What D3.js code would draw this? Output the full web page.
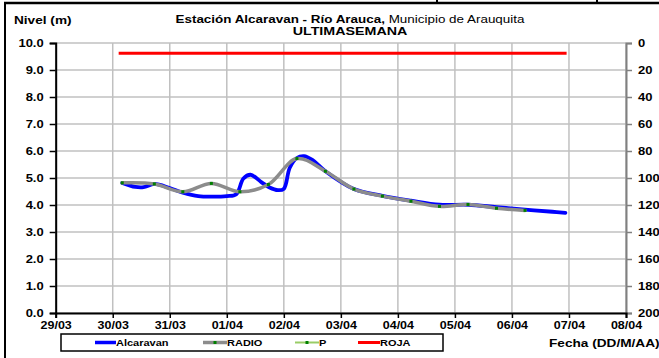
<!DOCTYPE html>
<html><head><meta charset="utf-8">
<script src="https://cdn.jsdelivr.net/npm/d3@7"></script>
<style>
html,body{margin:0;padding:0;background:#fff;}
svg{display:block;font-family:"Liberation Sans",Arial,sans-serif;}
</style></head>
<body><svg id="chart" width="659" height="358"></svg>
<script>
// ---------------- data ----------------
const YEAR = 2012;
const xTickLabels = ["29/03","30/03","31/03","01/04","02/04","03/04","04/04","05/04","06/04","07/04","08/04"];
const yLeftTicks = [0,1,2,3,4,5,6,7,8,9,10];
const yRightTicks = [0,20,40,60,80,100,120,140,160,180,200];

const alcaravanFecha = ["30/03 04:00","30/03 09:30","30/03 13:00","30/03 17:30","31/03 00:00","31/03 05:30","31/03 12:00","31/03 18:00","01/04 00:00","01/04 04:00","01/04 07:00","01/04 10:00","01/04 14:30","01/04 18:00","01/04 21:30","02/04 00:00","02/04 02:30","02/04 05:30","02/04 08:30","02/04 12:00","02/04 17:30","03/04 05:30","03/04 17:30","04/04 05:30","04/04 17:30","05/04 05:30","05/04 17:30","06/04 05:30","06/04 17:00","06/04 22:30"];
const alcaravanNivel = [4.82,4.67,4.66,4.78,4.63,4.46,4.33,4.31,4.33,4.40,4.98,5.12,4.85,4.65,4.55,4.60,5.38,5.74,5.81,5.67,5.25,4.59,4.34,4.16,4.01,4.01,3.92,3.83,3.75,3.71];

const radioFecha = ["30/03 04:00","30/03 17:30","31/03 05:30","31/03 17:30","01/04 05:30","01/04 17:30","02/04 05:30","02/04 17:30","03/04 05:30","03/04 17:30","04/04 05:30","04/04 17:30","05/04 05:30","05/04 17:30","06/04 05:30"];
const radioNivel = [4.82,4.78,4.49,4.80,4.49,4.76,5.72,5.25,4.59,4.33,4.14,3.95,4.02,3.88,3.80];

const pFecha = ["30/03 04:00","30/03 17:30","31/03 05:30","31/03 17:30","01/04 05:30","01/04 17:30","02/04 05:30","02/04 17:30","03/04 05:30","03/04 17:30","04/04 05:30","04/04 17:30","05/04 05:30","05/04 17:30","06/04 05:30"];
const pNivel = [4.82,4.78,4.49,4.80,4.49,4.76,5.72,5.25,4.59,4.33,4.14,3.95,4.02,3.88,3.80];

const rojaFecha = ["30/03 02:30","06/04 23:00"];
const rojaNivel = [9.62,9.62];

const legendNames = ["Alcaravan","RADIO","P","ROJA"];

// ---------------- helpers ----------------
function parseF(s){
  const [dm, hm] = s.split(" ");
  const [d,m] = dm.split("/").map(Number);
  const [h,mi] = (hm||"00:00").split(":").map(Number);
  return new Date(YEAR, m-1, d, h, mi);
}
const zip = (f,v) => f.map((s,i)=>({t:parseF(s), v:v[i]}));
// stretch text horizontally around its anchor x
function stretch(sel, sx){
  sel.each(function(){
    const el = d3.select(this);
    const ax = +(el.attr("x")||0);
    el.attr("transform", `translate(${ax*(1-sx)},0) scale(${sx},1)`);
  });
}

const svg = d3.select("#chart");
const L = 55.7, R = 626, T = 43, B = 313;
const x = d3.scaleTime().domain([parseF(xTickLabels[0]), parseF(xTickLabels[xTickLabels.length-1])]).range([L,R]);
const y = d3.scaleLinear().domain([0,10]).range([B,T]);
const y2 = d3.scaleLinear().domain([0,200]).range([T,B]);

// outer frame
svg.append("line").attr("x1",5).attr("x2",5).attr("y1",3).attr("y2",358).attr("stroke","#000").attr("stroke-width",2);
svg.append("line").attr("x1",4).attr("x2",659).attr("y1",3).attr("y2",3).attr("stroke","#000").attr("stroke-width",2.5);
[437,597].forEach(px=>svg.append("line").attr("x1",px).attr("x2",px).attr("y1",0).attr("y2",3).attr("stroke","#000").attr("stroke-width",2));

// grid
const g = svg.append("g");
g.selectAll(".hg").data(yLeftTicks).join("line")
  .attr("x1",L).attr("x2",R).attr("y1",d=>y(d)).attr("y2",d=>y(d))
  .attr("stroke","#c0c0c0").attr("stroke-width",1.5);
g.selectAll(".vg").data(xTickLabels).join("line")
  .attr("x1",d=>x(parseF(d))).attr("x2",d=>x(parseF(d))).attr("y1",T).attr("y2",B)
  .attr("stroke","#c0c0c0").attr("stroke-width",1.5);

// axes
const fontTick = "bold 10px 'Liberation Sans', Arial, sans-serif";
const TS = 1.3;
const axL = d3.axisLeft(y).tickValues(yLeftTicks).tickFormat(d3.format(".1f")).tickSize(6).tickPadding(6);
const gL = svg.append("g").attr("transform",`translate(${L},0)`).call(axL);
gL.select(".domain").attr("stroke","#000").attr("stroke-width",2);
gL.selectAll(".tick line").attr("stroke","#000").attr("stroke-width",1.5);
gL.selectAll("text").style("font",fontTick).attr("fill","#000").call(stretch,TS);

const axR = d3.axisRight(y2).tickValues(yRightTicks).tickSize(6).tickPadding(6);
const gR = svg.append("g").attr("transform",`translate(${R},0)`).call(axR);
gR.select(".domain").attr("stroke","#808080").attr("stroke-width",2);
gR.selectAll(".tick line").attr("stroke","#808080").attr("stroke-width",1.5);
gR.selectAll("text").style("font",fontTick).attr("fill","#000").call(stretch,TS);

const axB = d3.axisBottom(x).tickValues(xTickLabels.map(parseF)).tickFormat((d,i)=>xTickLabels[i]).tickSize(5).tickPadding(4);
const gB = svg.append("g").attr("transform",`translate(0,${B})`).call(axB);
gB.select(".domain").attr("stroke","#000").attr("stroke-width",2);
gB.selectAll(".tick line").attr("stroke","#000").attr("stroke-width",1.5);
gB.selectAll("text").style("font",fontTick).attr("fill","#000").call(stretch,1.25);

// series
const line = d3.line().x(d=>x(d.t)).y(d=>y(d.v)).curve(d3.curveCatmullRom.alpha(0.5));
svg.append("path").datum(zip(alcaravanFecha,alcaravanNivel)).attr("d",line)
  .attr("fill","none").attr("stroke","#0000ff").attr("stroke-width",3.8).attr("stroke-linecap","round");
svg.append("path").datum(zip(radioFecha,radioNivel)).attr("d",line)
  .attr("fill","none").attr("stroke","#8c8c8c").attr("stroke-width",3.5).attr("stroke-linecap","round");
svg.selectAll(".pm").data(zip(pFecha,pNivel)).join("rect")
  .attr("x",d=>x(d.t)-1.5).attr("y",d=>y(d.v)-1.5).attr("width",3).attr("height",3).attr("fill","#008000");
svg.append("path").datum(zip(rojaFecha,rojaNivel)).attr("d",d3.line().x(d=>x(d.t)).y(d=>y(d.v)))
  .attr("fill","none").attr("stroke","#ff0000").attr("stroke-width",3);

// texts
svg.append("text").attr("x",14).attr("y",24).style("font","bold 10.5px 'Liberation Sans', Arial, sans-serif").text("Nivel (m)").call(stretch,1.3);
const t1 = svg.append("text").attr("x",350).attr("y",23).attr("text-anchor","middle").style("font-size","10.5px");
t1.append("tspan").attr("font-weight","bold").text("Estación Alcaravan - Río Arauca,");
t1.append("tspan").text(" Municipio de Arauquita");
t1.call(stretch,1.28);
svg.append("text").attr("x",350).attr("y",35).attr("text-anchor","middle")
  .style("font","bold 10.5px 'Liberation Sans', Arial, sans-serif").text("ULTIMASEMANA").call(stretch,1.36);
svg.append("text").attr("x",549).attr("y",347).style("font","bold 10.5px 'Liberation Sans', Arial, sans-serif").text("Fecha (DD/M/AA)").call(stretch,1.3);

// legend
const lg = svg.append("g");
lg.append("rect").attr("x",61).attr("y",334).attr("width",382).attr("height",17).attr("fill","#fff").attr("stroke","#000").attr("stroke-width",1.5);
const legItems = [
  {name:legendNames[0], x0:95, x1:116, color:"#0000ff", w:3.5, marker:false},
  {name:legendNames[1], x0:203, x1:227, color:"#8c8c8c", w:3.5, marker:true},
  {name:legendNames[2], x0:295, x1:319, color:"#99cc66", w:2, marker:true},
  {name:legendNames[3], x0:358, x1:380, color:"#ff0000", w:3, marker:false}
];
legItems.forEach(it=>{
  lg.append("line").attr("x1",it.x0).attr("x2",it.x1).attr("y1",342.5).attr("y2",342.5).attr("stroke",it.color).attr("stroke-width",it.w);
  if(it.marker) lg.append("rect").attr("x",(it.x0+it.x1)/2-1.5).attr("y",341).attr("width",3).attr("height",3).attr("fill","#008000");
  lg.append("text").attr("x",it.x1).attr("y",346).style("font","bold 9.5px 'Liberation Sans', Arial, sans-serif").text(it.name).call(stretch,1.16);
});
</script></body></html>
